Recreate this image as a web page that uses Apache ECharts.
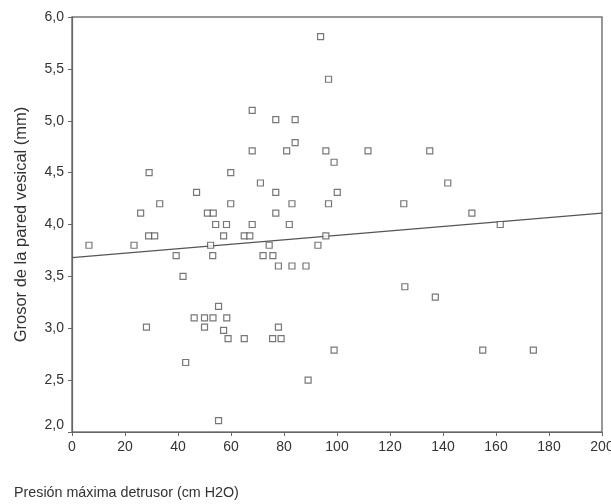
<!DOCTYPE html>
<html><head><meta charset="utf-8">
<script src="https://cdn.jsdelivr.net/npm/echarts@6/dist/echarts.min.js"></script>
<style>html,body{margin:0;padding:0;background:#fff}#c{width:611px;height:504px}</style>
</head><body><div id="c"></div>
<script>
const pressure = [6.4,23.4,25.9,28.1,29.1,28.9,31.2,33.1,39.3,41.9,42.9,46.1,47.0,50.0,50.0,51.1,52.3,53.1,53.2,53.3,54.2,55.3,55.3,57.2,57.2,58.3,58.4,58.9,59.9,59.9,65.0,65.0,67.1,68.0,68.0,68.0,71.1,72.1,74.4,75.8,75.7,76.9,76.9,76.9,77.9,77.9,78.9,81.0,82.0,83.0,83.0,84.2,84.2,88.3,89.1,92.8,93.8,95.8,95.8,96.8,96.8,98.9,98.9,100.1,111.7,125.2,125.6,135.0,137.1,141.8,150.9,155.0,161.6,174.1];
const thickness = [3.80,3.80,4.11,3.01,4.50,3.89,3.89,4.20,3.70,3.50,2.67,3.10,4.31,3.10,3.01,4.11,3.80,3.70,3.10,4.11,4.00,3.21,2.11,3.89,2.98,4.00,3.10,2.90,4.50,4.20,2.90,3.89,3.89,4.00,4.71,5.10,4.40,3.70,3.80,3.70,2.90,5.01,4.31,4.11,3.60,3.01,2.90,4.71,4.00,4.20,3.60,5.01,4.79,3.60,2.50,3.80,5.81,4.71,3.89,5.40,4.20,4.60,2.79,4.31,4.71,4.20,3.40,4.71,3.30,4.40,4.11,2.79,4.00,2.79];
const fitX = [0, 200];
const fitY = [3.68, 4.11];
const xTitle = 'Presión máxima detrusor (cm H2O)';
const yTitle = 'Grosor de la pared vesical (mm)';

const chart = echarts.init(document.getElementById('c'));
const font = 'Liberation Sans, Arial, sans-serif';
chart.setOption({
  animation: false,
  backgroundColor: '#fff',
  grid: {left: 72, right: 9, top: 17, bottom: 72, outerBoundsMode: 'none', containLabel: false,
    show: true, borderColor: '#777', borderWidth: 1.5, backgroundColor: 'transparent'},
  xAxis: {
    type: 'value', min: 0, max: 200, interval: 20,
    axisLine: {show: true, lineStyle: {color: '#666', width: 1.2}},
    axisTick: {show: true, inside: false, length: 4, lineStyle: {color: '#666'}},
    splitLine: {show: false},
    axisLabel: {color: '#333', fontSize: 14, fontFamily: font, margin: 8, hideOverlap: false}
  },
  yAxis: {
    type: 'value', min: 2, max: 6, interval: 0.5,
    name: yTitle, nameLocation: 'middle', nameGap: 42,
    nameTextStyle: {color: '#333', fontSize: 16.5, fontFamily: font},
    axisLine: {show: true, lineStyle: {color: '#666', width: 1.2}},
    axisTick: {show: true, inside: false, length: 4, lineStyle: {color: '#666'}},
    splitLine: {show: false},
    axisLabel: {color: '#333', fontSize: 14, fontFamily: font, margin: 8,
      verticalAlignMinLabel: 'bottom',
      formatter: v => v.toFixed(1).replace('.', ',')}
  },
  graphic: [{type: 'text', left: 14, top: 486, style: {text: xTitle, fill: '#333', font: '14.3px ' + font}}],
  series: [
    {type: 'scatter', data: pressure.map((x, i) => [x, thickness[i]]), symbol: 'rect', symbolSize: 6,
      itemStyle: {color: '#fff', borderColor: '#555', borderWidth: 1.2}, z: 3},
    {type: 'line', data: fitX.map((x, i) => [x, fitY[i]]), showSymbol: false, symbol: 'none',
      lineStyle: {color: '#555', width: 1.2}, z: 2}
  ]
});
</script></body></html>
